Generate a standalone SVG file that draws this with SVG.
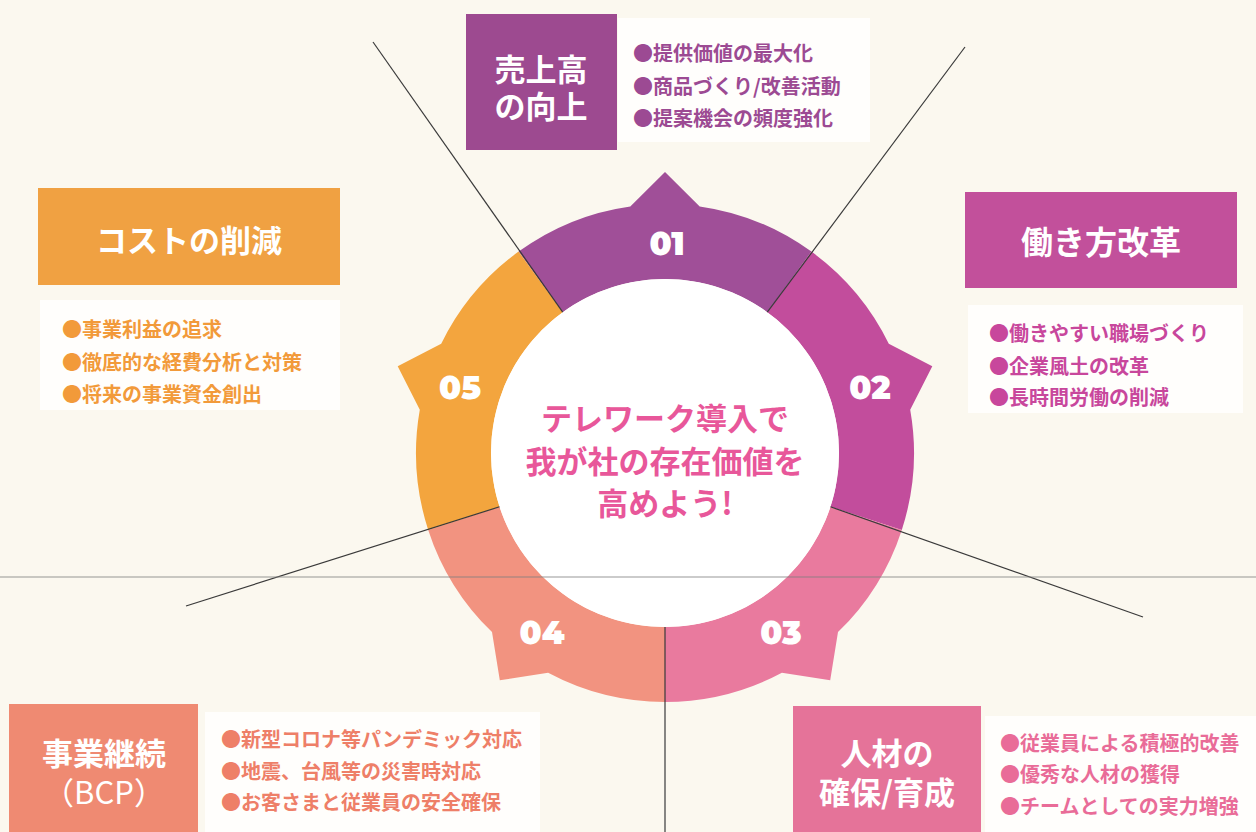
<svg xmlns="http://www.w3.org/2000/svg" width="1256" height="832" viewBox="0 0 1256 832">
<style>
.head{font-family:"Noto Sans CJK JP","Noto Sans",sans-serif;font-weight:700;fill:#ffffff;text-anchor:middle;dominant-baseline:central;}
.ctr{font-family:"Noto Sans CJK JP","Noto Sans",sans-serif;font-weight:700;fill:#e8579a;text-anchor:middle;dominant-baseline:central;font-size:31px;}
.bul{font-family:"Noto Sans CJK JP","Noto Sans",sans-serif;font-weight:700;font-size:20px;dominant-baseline:central;}
.num{font-family:"Montserrat","Lato","Open Sans",sans-serif;font-weight:900;font-size:32px;fill:#ffffff;text-anchor:middle;dominant-baseline:central;}
.conn{stroke:#3a3a3a;stroke-width:1.2;fill:none;}
.patch{fill:#fffefc;}
</style>
<rect x="0" y="0" width="1256" height="832" fill="#fbf8ef"/>
<g id="patches">
<rect class="patch" x="618" y="18" width="252" height="124"/>
<rect class="patch" x="40" y="300" width="300" height="110"/>
<rect class="patch" x="968" y="305" width="275" height="108"/>
<rect class="patch" x="205" y="712" width="335" height="120"/>
<rect class="patch" x="985" y="716" width="271" height="116"/>
</g>
<g id="ring">
<path id="seg01" fill="#a04f98" d="M518.6,251.6 A249,249 0 0 1 630.3,206.4 L665,172 L699.7,206.4 A249,249 0 0 1 811.4,251.6 L767.3,312.2 A174,174 0 0 0 562.7,312.2 Z"/>
<path id="seg02" fill="#c24d9c" d="M811.4,251.6 A249,249 0 0 1 888.8,343.8 L932.3,366.2 L910.2,409.8 A249,249 0 0 1 901.8,529.9 L830.5,506.8 A174,174 0 0 0 767.3,312.2 Z"/>
<path id="seg03" fill="#e97a9e" d="M901.8,529.9 A249,249 0 0 1 838.0,632.1 L830.2,680.3 L781.9,672.8 A249,249 0 0 1 665,702 L665,627 A174,174 0 0 0 830.5,506.8 Z"/>
<path id="seg04" fill="#f29380" d="M665,702 A249,249 0 0 1 548.1,672.8 L499.8,680.3 L492.0,632.1 A249,249 0 0 1 428.2,529.9 L499.5,506.8 A174,174 0 0 0 665,627 Z"/>
<path id="seg05" fill="#f3a53e" d="M428.2,529.9 A249,249 0 0 1 419.8,409.8 L397.7,366.2 L441.2,343.8 A249,249 0 0 1 518.6,251.6 L562.7,312.2 A174,174 0 0 0 499.5,506.8 Z"/>
<circle cx="665" cy="453" r="174" fill="#ffffff"/>
<text class="num" x="667" y="243">01</text>
<text class="num" x="870" y="387">02</text>
<text class="num" x="781" y="632">03</text>
<text class="num" x="542" y="632">04</text>
<text class="num" x="460" y="387">05</text>
</g>
<g id="connectors">
<line class="conn" x1="373" y1="42" x2="562.7" y2="312.2"/>
<line class="conn" x1="965" y1="47" x2="767.3" y2="312.2"/>
<line class="conn" x1="186" y1="606" x2="499.5" y2="506.8"/>
<line class="conn" x1="1143" y1="617" x2="830.5" y2="506.8"/>
<line class="conn" x1="665" y1="627" x2="665" y2="832"/>
<line x1="0" y1="577" x2="1256" y2="577" stroke="#7d7d7d" stroke-width="1" stroke-opacity="0.8"/>
</g>
<g id="center">
<text class="ctr" x="665" y="416">テレワーク導入で</text>
<text class="ctr" x="665" y="459">我が社の存在価値を</text>
<text class="ctr" x="665" y="501">高めよう!</text>
</g>
<g id="node01">
<rect x="466" y="14" width="151" height="136" fill="#9d4a90"/>
<text class="head" x="541" y="67" font-size="31">売上高</text>
<text class="head" x="541" y="104" font-size="31">の向上</text>
<text class="bul" x="633" y="52" fill="#9c4a93">●提供価値の最大化</text>
<text class="bul" x="633" y="85" fill="#9c4a93">●商品づくり/改善活動</text>
<text class="bul" x="633" y="117" fill="#9c4a93">●提案機会の頻度強化</text>
</g>
<g id="node02">
<rect x="965" y="192" width="272" height="96" fill="#c2509b"/>
<text class="head" x="1101" y="240" font-size="32">働き方改革</text>
<text class="bul" x="989" y="332" fill="#c8479c">●働きやすい職場づくり</text>
<text class="bul" x="989" y="365" fill="#c8479c">●企業風土の改革</text>
<text class="bul" x="989" y="396" fill="#c8479c">●長時間労働の削減</text>
</g>
<g id="node03">
<rect x="793" y="706" width="188" height="130" fill="#e57399"/>
<text class="head" x="887" y="751" font-size="31">人材の</text>
<text class="head" x="887" y="790" font-size="31">確保/育成</text>
<text class="bul" x="1000" y="742" fill="#e96c98">●従業員による積極的改善</text>
<text class="bul" x="1000" y="773" fill="#e96c98">●優秀な人材の獲得</text>
<text class="bul" x="1000" y="805" fill="#e96c98">●チームとしての実力増強</text>
</g>
<g id="node04">
<rect x="9" y="704" width="189" height="132" fill="#ef8a72"/>
<text class="head" x="104" y="751" font-size="31">事業継続</text>
<text class="head" x="104" y="790" font-size="31" font-weight="400" style="font-weight:400">（BCP）</text>
<text class="bul" x="221" y="738" fill="#ee7f68">●新型コロナ等パンデミック対応</text>
<text class="bul" x="221" y="770" fill="#ee7f68">●地震、台風等の災害時対応</text>
<text class="bul" x="221" y="801" fill="#ee7f68">●お客さまと従業員の安全確保</text>
</g>
<g id="node05">
<rect x="38" y="188" width="302" height="97" fill="#f0a142"/>
<text class="head" x="189" y="238" font-size="31">コストの削減</text>
<text class="bul" x="62" y="328" fill="#f29a3a">●事業利益の追求</text>
<text class="bul" x="62" y="361" fill="#f29a3a">●徹底的な経費分析と対策</text>
<text class="bul" x="62" y="393" fill="#f29a3a">●将来の事業資金創出</text>
</g>
</svg>
